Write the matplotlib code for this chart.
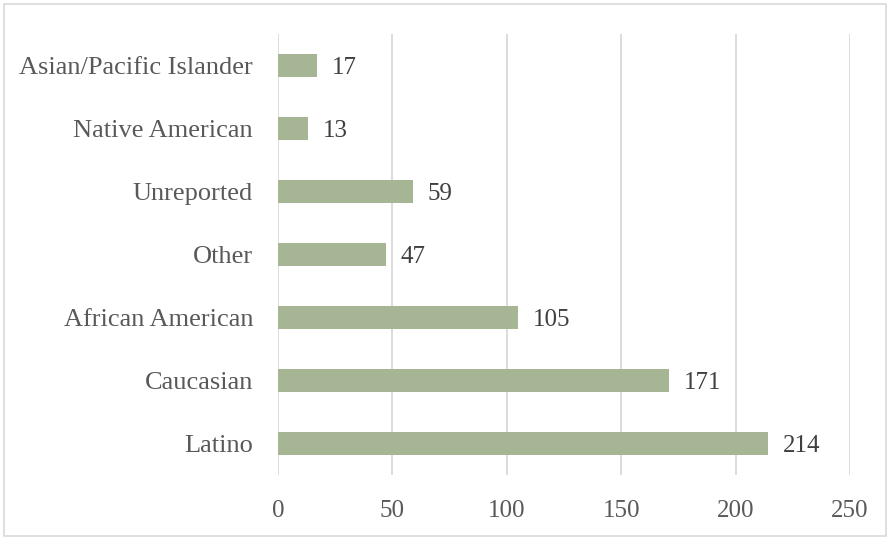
import matplotlib
matplotlib.use("Agg")
import matplotlib.pyplot as plt
from matplotlib.patches import Rectangle

categories = ["Latino", "Caucasian", "African American", "Other",
              "Unreported", "Native American", "Asian/Pacific Islander"]
counts = [214, 171, 105, 47, 59, 13, 17]
xticks = [0, 50, 100, 150, 200, 250]

bar_color = "#A6B593"
text_color = "#595959"
grid_color = "#D9D9D9"

plt.rcParams["font.family"] = ["Liberation Serif", "DejaVu Serif"]

fig = plt.figure(figsize=(8.9, 5.39), dpi=100)
ax = fig.add_axes([278 / 890, 64 / 539, 572 / 890, 441 / 539])

# light frame round the whole chart
fig.patches.append(Rectangle((4 / 890, 3 / 539), 882 / 890, 532 / 539,
                             transform=fig.transFigure, fill=False,
                             edgecolor=grid_color, linewidth=1.2))

y = range(len(categories))
ax.barh(y, counts, height=0.35, color=bar_color, zorder=3)
for yi, v in zip(y, counts):
    ax.text(v + 6.5, yi, str(v), va="center_baseline", ha="left",
            fontsize=18, color="#404040")

ax.set_xlim(0, 250)
ax.set_ylim(-0.5, len(categories) - 0.5)
ax.set_xticks(xticks)
ax.set_yticks(list(y))
ax.set_yticklabels(categories)
ax.tick_params(axis="both", length=0, labelsize=18, labelcolor=text_color)
ax.tick_params(axis="x", pad=18)
ax.tick_params(axis="y", pad=18, labelsize=19)
ax.grid(axis="x", color=grid_color, linewidth=1.3, zorder=0)
for s in ax.spines.values():
    s.set_visible(False)

fig.savefig("out.png", dpi=100)
